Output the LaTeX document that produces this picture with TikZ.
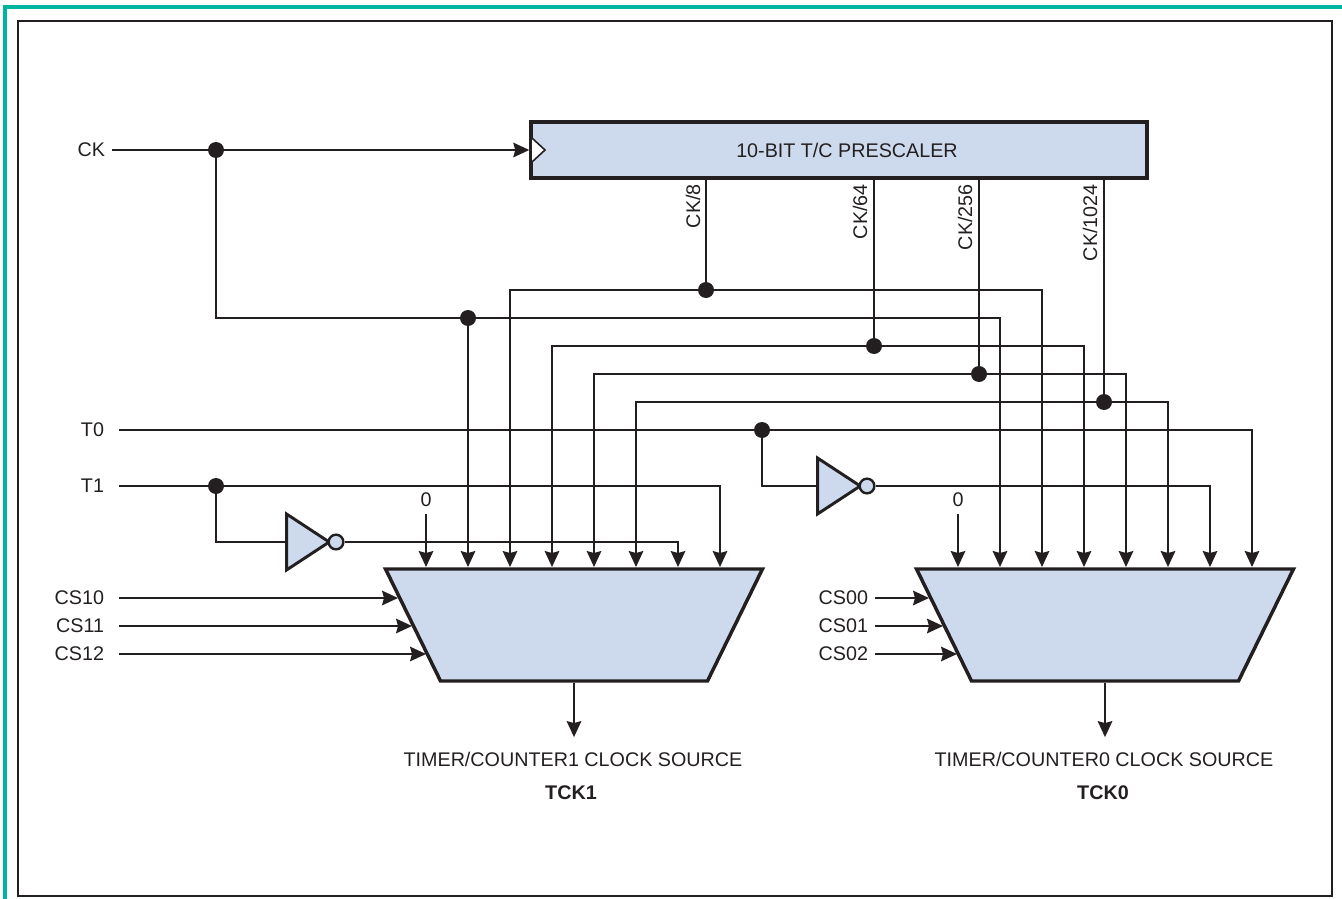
\documentclass[tikz,border=0pt]{standalone}
\usepackage{fontspec}
\setmainfont{Liberation Sans}
\usetikzlibrary{positioning,arrows.meta,shapes.geometric,calc}
\definecolor{ink}{HTML}{231F20}
\definecolor{cfill}{HTML}{CDDAEE}
\definecolor{cframe}{HTML}{00B5A0}
\tikzset{
  wire/.style={line width=1.2pt, draw=ink},
  flow/.style={-{Stealth[length=12pt, width=11pt, inset=1.5pt]}, line width=1.2pt, draw=ink},
  lbl/.style={inner sep=0pt, text=ink, font=\fontsize{14.8}{17}\selectfont},
  sig/.style={lbl, anchor=east, outer sep=11.25pt},
  sigc/.style={lbl, anchor=east, outer sep=5.25pt},
  tap/.style={lbl, rotate=90, anchor=east},
  dot/.style={circle, fill=ink, inner sep=0pt, minimum size=12pt},
  mux/.style={trapezium, shape border rotate=180, trapezium angle=78.36, trapezium stretches=true,
              draw=ink, fill=cfill, line width=2.6pt, inner sep=2pt,
              minimum width=282.75pt, minimum height=84pt},
  inv/.style={isosceles triangle, isosceles triangle stretches=true, shape border rotate=0,
              draw=ink, fill=cfill, line width=2.2pt, inner sep=2pt, outer sep=0pt,
              minimum width=42pt, minimum height=32pt},
  bub/.style={circle, draw=ink, fill=cfill, line width=1.8pt, inner sep=0pt, minimum size=11pt}
}

\begin{document}
\begin{tikzpicture}[x=0.75pt, y=-0.75pt]
\useasboundingbox (0,0) rectangle (1342,899);
% frames
\coordinate (fa) at (5,899); \coordinate (fb) at (5,7); \coordinate (fc) at (1342,7);
\draw[cframe, line width=3pt] (fa) -- (fb) -- (fc);
\coordinate (ga) at (18,21); \coordinate (gb) at (1332,896);
\draw[ink, line width=1.6pt] (ga) rectangle (gb);
% blocks
\node[rectangle, draw=ink, fill=cfill, line width=2.6pt, inner sep=0pt, minimum width=462pt, minimum height=42pt] (pre) at (839,150) {};
\node[lbl] (pretext) at (847,150) {10-BIT T/C PRESCALER};
\draw[ink, fill=white, line width=1.2pt] (532,138) -- (545,150) -- (532,162);
\node[mux] (mux1) at (574,625) {};
\node[mux] (mux0) at (1105,625) {};
% input points on top of the muxes
\foreach \n/\x in {0/426,1/468,2/510,3/552,4/594,5/636,6/678,7/720}
  \coordinate (a\n) at (\x,567);
\foreach \n/\x in {0/958,1/1000,2/1042,3/1084,4/1126,5/1168,6/1210,7/1252}
  \coordinate (b\n) at (\x,567);
% signals
\node[sigc] (ck) at (112,150) {CK};
\node[sig] (t0) at (119,430) {T0};
\node[sig] (t1) at (119,486) {T1};
\node[sig] (cs10) at (119,598) {CS10};
\node[sig] (cs11) at (119,626) {CS11};
\node[sig] (cs12) at (119,654) {CS12};
\node[sigc] (cs00) at (875,598) {CS00};
\node[sigc] (cs01) at (875,626) {CS01};
\node[sigc] (cs02) at (875,654) {CS02};
\coordinate (s10) at (398,598); \coordinate (s11) at (412,626); \coordinate (s12) at (426,654);
\coordinate (s00) at (929,598); \coordinate (s01) at (943,626); \coordinate (s02) at (957,654);
\node[lbl, outer sep=5.25pt] (zero1) at (426,500) {0};
\node[lbl, outer sep=5.25pt] (zero0) at (958,500) {0};
% junctions
\node[dot] (ckj) at (216,150) {};
\node[dot] (ckd) at (468,318) {};
\node[dot] (j8) at (706,290) {};
\node[dot] (j64) at (874,346) {};
\node[dot] (j256) at (979,374) {};
\node[dot] (j1024) at (1104,402) {};
\node[dot] (t0j) at (762,430) {};
\node[dot] (t1j) at (216,486) {};
% inverters
\node[inv] (inv1) at (301,542) {};
\node[bub] (bub1) at (336,542) {};
\node[inv] (inv0) at (832,486) {};
\node[bub] (bub0) at (867,486) {};
% tap labels
\node[tap] (l8) at (693,184) {CK/8};
\node[tap] (l64) at (860,184) {CK/64};
\node[tap] (l256) at (965,184) {CK/256};
\node[tap] (l1024) at (1090,184) {CK/1024};
% outputs
\node[lbl, outer sep=11pt] (src1) at (573,759) {TIMER/COUNTER1 CLOCK SOURCE};
\node[lbl, font=\fontsize{14.8}{17}\selectfont\bfseries] (tck1) at (571,793) {TCK1};
\node[lbl, outer sep=11pt] (src0) at (1104,759) {TIMER/COUNTER0 CLOCK SOURCE};
\node[lbl, font=\fontsize{14.8}{17}\selectfont\bfseries] (tck0) at (1103,793) {TCK0};
% connections
\draw[flow] (ck) -- (pre.west);
\draw[wire] (ckj) |- (ckd);
\draw[flow] (ckd) -| (b1);
\draw[flow] (ckd) -- (a1);
\draw[wire] (j8 |- pre.south) -- (j8);
\draw[wire] (j64 |- pre.south) -- (j64);
\draw[wire] (j256 |- pre.south) -- (j256);
\draw[wire] (j1024 |- pre.south) -- (j1024);
\draw[flow] (j8) -| (a2); \draw[flow] (j8) -| (b2);
\draw[flow] (j64) -| (a3); \draw[flow] (j64) -| (b3);
\draw[flow] (j256) -| (a4); \draw[flow] (j256) -| (b4);
\draw[flow] (j1024) -| (a5); \draw[flow] (j1024) -| (b5);
\draw[wire] (t0) -- (t0j);
\draw[flow] (t0j) -| (b7);
\draw[wire] (t0j) |- (inv0.west);
\draw[flow] (bub0) -| (b6);
\draw[wire] (t1) -- (t1j);
\draw[flow] (t1j) -| (a7);
\draw[wire] (t1j) |- (inv1.west);
\draw[flow] (bub1) -| (a6);
\draw[flow] (zero1) -- (a0);
\draw[flow] (zero0) -- (b0);
\draw[flow] (cs10) -- (s10);
\draw[flow] (cs11) -- (s11);
\draw[flow] (cs12) -- (s12);
\draw[flow] (cs00) -- (s00);
\draw[flow] (cs01) -- (s01);
\draw[flow] (cs02) -- (s02);
\draw[flow] (mux1.south) -- (mux1.south |- src1.north);
\draw[flow] (mux0.south) -- (mux0.south |- src0.north);
\end{tikzpicture}
\end{document}
